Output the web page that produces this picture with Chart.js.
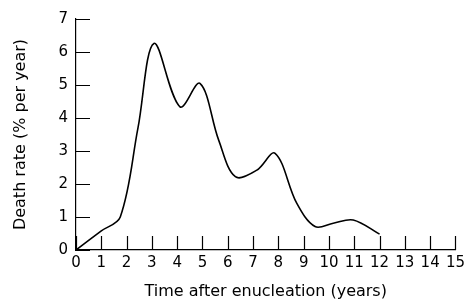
<!DOCTYPE html>
<html>
<head>
<meta charset="utf-8">
<script src="https://cdn.jsdelivr.net/npm/chart.js@4"></script>
<style>
  html, body { margin: 0; padding: 0; background: #fff; }
  #wrap { width: 469px; height: 304px; }
</style>
</head>
<body>
<div id="wrap"><canvas id="deathChart"></canvas></div>
<script>
// years after enucleation and death rate (% per year)
var years = [0, 1, 1.75, 2.45, 3.08, 4.11, 4.9, 5.64, 6.3, 7.15, 7.87, 8.73, 9.45, 10.17, 10.96, 12];
var deathRate = [0, 0.58, 1.0, 3.7, 6.26, 4.34, 5.05, 3.33, 2.22, 2.42, 2.93, 1.41, 0.71, 0.81, 0.91, 0.48];
var xTicks = [0, 1, 2, 3, 4, 5, 6, 7, 8, 9, 10, 11, 12, 13, 14, 15];
var yTicks = [0, 1, 2, 3, 4, 5, 6, 7];

var points = years.map(function (x, i) { return { x: x, y: deathRate[i] }; });
var fontFamily = '"DejaVu Sans", sans-serif';

// ticks point inwards in the original, so draw them ourselves
var innerTicks = {
    id: 'innerTicks',
    afterDraw: function (chart) {
        var c = chart.ctx, xs = chart.scales.x, ys = chart.scales.y;
        var area = chart.chartArea;
        c.save();
        c.strokeStyle = '#000';
        c.lineWidth = 1.2;
        c.beginPath();
        xTicks.forEach(function (v) {
            var px = Math.round(xs.getPixelForValue(v)) + 0.5;
            c.moveTo(px, area.bottom);
            c.lineTo(px, area.bottom - 14);
        });
        yTicks.forEach(function (v) {
            var py = Math.round(ys.getPixelForValue(v)) + 0.5;
            c.moveTo(area.left, py);
            c.lineTo(area.left + 14, py);
        });
        c.stroke();
        c.restore();
    }
};

var ctx = document.getElementById('deathChart').getContext('2d');
var myChart = new Chart(ctx, {
    type: 'line',
    data: {
        datasets: [{
            data: points,
            borderColor: '#000',
            borderWidth: 1.6,
            pointRadius: 0,
            fill: false,
            tension: 0.35
        }]
    },
    options: {
        responsive: true,
        maintainAspectRatio: false,
        animation: false,
        layout: { padding: { top: 19, right: 12, bottom: 3, left: 11 } },
        plugins: { legend: { display: false }, tooltip: { enabled: false } },
        scales: {
            x: {
                type: 'linear',
                min: 0,
                max: 15,
                afterBuildTicks: function (s) { s.ticks = xTicks.map(function (v) { return { value: v }; }); },
                afterFit: function (s) { s.height = 51; },
                grid: { display: false, drawTicks: false },
                border: { display: true, color: '#000', width: 1.2 },
                ticks: { color: '#000', padding: 4, maxRotation: 0, autoSkip: false, font: { family: fontFamily, size: 15 } },
                title: { display: true, text: 'Time after enucleation (years)', color: '#000', padding: { top: 4, bottom: 0 }, font: { family: fontFamily, size: 16 } }
            },
            y: {
                min: 0,
                max: 7,
                afterBuildTicks: function (s) { s.ticks = yTicks.map(function (v) { return { value: v }; }); },
                afterFit: function (s) { s.width = 65; },
                grid: { display: false, drawTicks: false },
                border: { display: true, color: '#000', width: 1.2 },
                ticks: { color: '#000', padding: 8, font: { family: fontFamily, size: 15 } },
                title: { display: true, text: 'Death rate (% per year)', color: '#000', padding: { top: 0, bottom: 0 }, font: { family: fontFamily, size: 16 } }
            }
        }
    },
    plugins: [innerTicks]
});
</script>
</body>
</html>
